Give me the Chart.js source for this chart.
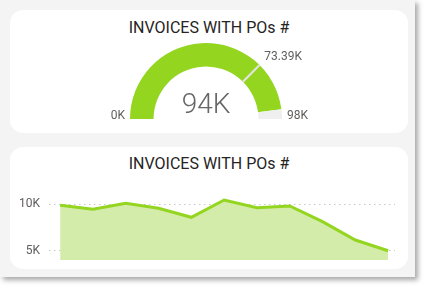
<!DOCTYPE html>
<html>
<head>
<meta charset="utf-8">
<script src="https://cdn.jsdelivr.net/npm/chart.js@4"></script>
<style>
  html, body { margin: 0; padding: 0; background: #ffffff; }
  body { width: 427px; height: 288px; position: relative; overflow: hidden; font-family: Roboto, "DejaVu Sans", sans-serif; }
  #frame { position: absolute; left: 0; top: 0; width: 415px; height: 277px; background: #f4f4f4;
           box-shadow: 3px 3px 5px rgba(0,0,0,0.35); }
  .card { position: absolute; left: 10px; width: 398px; background: #ffffff; border-radius: 13px; }
  .title { position: absolute; left: 0; width: 100%; text-align: center; font-size: 16px; color: #252423; }
  canvas { position: absolute; left: 0; }
</style>
</head>
<body>
<div id="frame">
  <div class="card" style="top:10px;height:123px;">
    <div class="title" style="top:8px;">INVOICES WITH POs #</div>
    <canvas id="gauge" style="top:30px" width="398" height="93"></canvas>
  </div>
  <div class="card" style="top:147px;height:122px;">
    <div class="title" style="top:7px;">INVOICES WITH POs #</div>
    <canvas id="area" style="top:28px" width="398" height="94"></canvas>
  </div>
</div>
<script>
// gauge
const gaugeMin = 0;
const gaugeMax = 98000;
const gaugeValue = 94000;
const gaugeTarget = 73390;

// area chart
const months = ['Jan', 'Feb', 'Mar', 'Apr', 'May', 'Jun', 'Jul', 'Aug', 'Sep', 'Oct', 'Nov'];
const invoices = [9900, 9460, 10100, 9570, 8600, 10460, 9640, 9820, 8130, 6150, 5000];
const yTicks = [5000, 10000];

const green = '#93d51f';

function fmtK(v, dec) {
    return (v / 1000).toFixed(dec) + 'K';
}

const gaugeText = {
    id: 'gaugeText',
    afterDraw(chart) {
        const arc = chart.getDatasetMeta(0).data[0];
        const ctx = chart.ctx;
        const cx = arc.x, cy = arc.y, r = arc.outerRadius, ir = arc.innerRadius;
        // target marker
        const a = Math.PI + Math.PI * (gaugeTarget - gaugeMin) / (gaugeMax - gaugeMin);
        ctx.save();
        ctx.strokeStyle = '#e4e4e4';
        ctx.lineWidth = 2;
        ctx.beginPath();
        ctx.moveTo(cx + Math.cos(a) * ir, cy + Math.sin(a) * ir);
        ctx.lineTo(cx + Math.cos(a) * r, cy + Math.sin(a) * r);
        ctx.stroke();

        ctx.fillStyle = '#605e5c';
        ctx.font = '12px Roboto, "DejaVu Sans", sans-serif';
        ctx.textBaseline = 'middle';
        ctx.textAlign = 'right';
        ctx.fillText(fmtK(gaugeMin, 0), cx - r - 5, cy - 3);
        ctx.textAlign = 'left';
        ctx.fillText(fmtK(gaugeMax, 0), cx + r + 5, cy - 3);
        ctx.fillText(fmtK(gaugeTarget, 2), cx + Math.cos(a) * (r + 4) + 2, cy + Math.sin(a) * (r + 4) - 5);

        ctx.fillStyle = '#666666';
        ctx.font = '300 28px Roboto, "DejaVu Sans", sans-serif';
        ctx.textAlign = 'center';
        ctx.fillText(fmtK(gaugeValue, 0), cx, cy - 13);
        ctx.restore();
    }
};

new Chart(document.getElementById('gauge'), {
    type: 'doughnut',
    data: {
        datasets: [{
            data: [gaugeValue - gaugeMin, gaugeMax - gaugeValue],
            backgroundColor: [green, '#efefef'],
            borderWidth: 0
        }]
    },
    options: {
        responsive: false,
        animation: false,
        circumference: 180,
        rotation: -90,
        cutout: '69%',
        layout: { padding: { left: 120, right: 126, top: 3, bottom: 14 } },
        plugins: { legend: { display: false }, tooltip: { enabled: false } },
        events: []
    },
    plugins: [gaugeText]
});

new Chart(document.getElementById('area'), {
    type: 'line',
    data: {
        labels: months,
        datasets: [{
            data: invoices.map((v, i) => ({ x: i, y: v })),
            borderColor: green,
            borderWidth: 3,
            backgroundColor: '#d4ecaa',
            fill: 'start',
            pointRadius: 0,
            tension: 0
        }]
    },
    options: {
        responsive: false,
        animation: false,
        layout: { padding: { left: 0, right: 13, top: 20, bottom: 9 } },
        plugins: { legend: { display: false }, tooltip: { enabled: false } },
        events: [],
        scales: {
            x: {
                type: 'linear',
                min: -0.34,
                max: months.length - 1 + 0.21,
                display: false
            },
            y: {
                min: 4000,
                max: 11000,
                afterBuildTicks: (axis) => { axis.ticks = yTicks.map(v => ({ value: v })); },
                afterFit: (axis) => { axis.width = 39; axis.paddingTop = 0; axis.paddingBottom = 0; },
                border: { display: false, dash: [1.5, 3.5] },
                grid: { color: '#c8c8c8', lineWidth: 1, drawTicks: false },
                ticks: {
                    padding: 9,
                    color: '#605e5c',
                    font: { size: 12, family: 'Roboto, "DejaVu Sans", sans-serif' },
                    callback: (v) => fmtK(v, 0)
                }
            }
        }
    }
});
</script>
</body>
</html>
